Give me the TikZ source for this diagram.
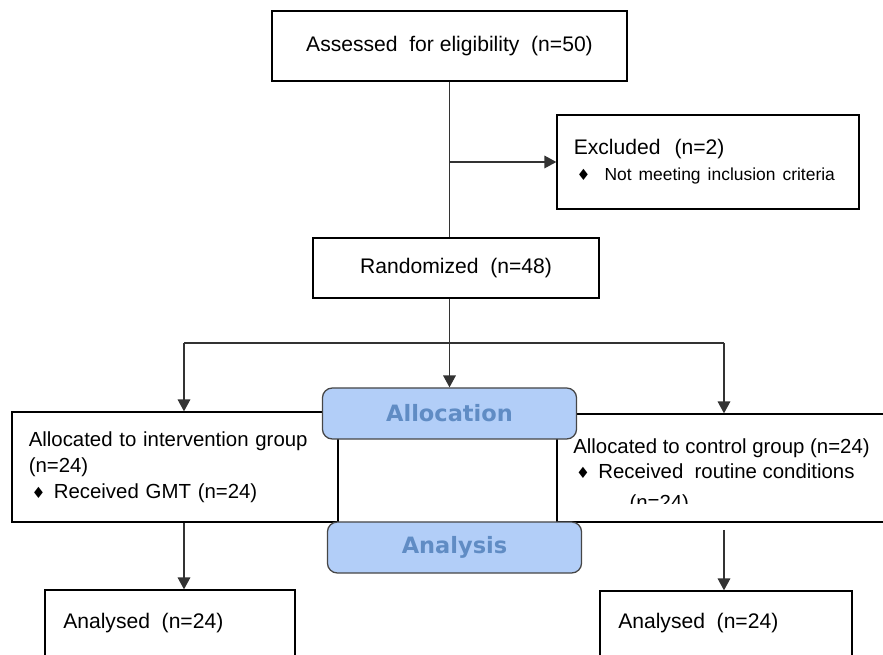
\documentclass[tikz,border=0pt]{standalone}
\usepackage{fontspec}
\usepackage{xcolor}
\usetikzlibrary{arrows.meta}
\setmainfont{Liberation Sans}
\newfontfamily\symfont{DejaVu Sans}
\newfontfamily\phasefont{DejaVu Sans}
\definecolor{phasefill}{RGB}{178,206,248}
\definecolor{phasetext}{RGB}{96,140,196}
\definecolor{phaseline}{RGB}{70,70,70}
\newcommand{\dmd}{{\symfont\fontsize{11}{11}\selectfont ♦}}

\begin{document}
\begin{tikzpicture}[x=0.025cm,y=-0.025cm,
    every node/.style={font=\fontsize{15}{18.4}\selectfont},
    box/.style={draw,line width=0.9pt,inner sep=0pt},
    lbox/.style={box,inner xsep=0.42cm,align=left},
    grp/.style={font=\fontsize{14.5}{18.4}\selectfont},
    phase/.style={draw=phaseline,line width=0.9pt,fill=phasefill,rounded corners=7pt,
        text=phasetext,font=\phasefont\bfseries\fontsize{16}{16}\selectfont,
        minimum width=6.35cm,minimum height=1.275cm},
    txt/.style={inner sep=0pt,align=left},
    line/.style={draw=black!80,line width=0.9pt},
    arr/.style={line,-{Triangle[length=8.5pt,width=9pt]}}]
        \useasboundingbox (0,0) rectangle (883,655);
        \clip (0,0) rectangle (883,655);
        % boxes
        \node (assess) at (449.5,46) [box,minimum width=8.875cm,minimum height=1.75cm] {Assessed~~for eligibility~~(n=50)};
        \node (excl) at (708,162) [lbox,minimum height=2.35cm,text width=6.71cm]
            {Excluded~~(n=2)\\\mbox{\hspace{2pt}\dmd\hspace{10pt}\fontsize{12.4}{15}\selectfont Not meeting inclusion criteria}};
        \node (rand) at (456,268) [box,minimum width=7.15cm,minimum height=1.5cm] {Randomized~~(n=48)};
        \node (intv) at (175,467) [lbox,grp,minimum height=2.75cm,text width=7.31cm]
            {Allocated to intervention group\\(n=24)\\\mbox{\hspace{2pt}\dmd\hspace{6pt}Received GMT (n=24)}};
        \node (ctrl) at (728.5,468) [box,minimum width=8.575cm,minimum height=2.7cm] {};
        \begin{scope}
            \clip (557,414) rectangle (883,504);
            \node (ctrltxt) at (573,438) [txt,grp,anchor=north west]
                {Allocated to control group (n=24)\\\hspace{2pt}\dmd\hspace{6pt}Received~~routine conditions\\[3pt]\hspace{40pt}(n=24)};
        \end{scope}
        \node (anaL) at (170,645) [box,minimum width=6.25cm,minimum height=2.75cm] {};
        \node (anaR) at (726,645.5) [box,minimum width=6.3cm,minimum height=2.725cm] {};
        \node (anaLtxt) at (63,628) [txt,anchor=base west] {Analysed~~(n=24)};
        \node (anaRtxt) at (618,628) [txt,anchor=base west] {Analysed~~(n=24)};
        % phase labels
        \node (alloc) at (449.5,413.5) [phase] {Allocation};
        \node (anal) at (454.5,547.5) [phase] {Analysis};
        % connectors
        \coordinate (split) at (assess.south |- excl.west);
        \coordinate (bl) at (184,343);
        \coordinate (br) at (724,343);
        \coordinate (rs) at (724,530);
        \draw[line] (assess.south) -- (assess.south |- rand.north);
        \draw[arr] (split) -- (excl.west);
        \draw[arr] (alloc.north |- rand.south) -- (alloc.north);
        \draw[line] (bl) -- (br);
        \draw[arr] (bl) -- (bl |- intv.north);
        \draw[arr] (br) -- (br |- ctrl.north);
        \draw[arr] (bl |- intv.south) -- (bl |- anaL.north);
        \draw[arr] (rs) -- (rs |- anaR.north);
\end{tikzpicture}
\end{document}
